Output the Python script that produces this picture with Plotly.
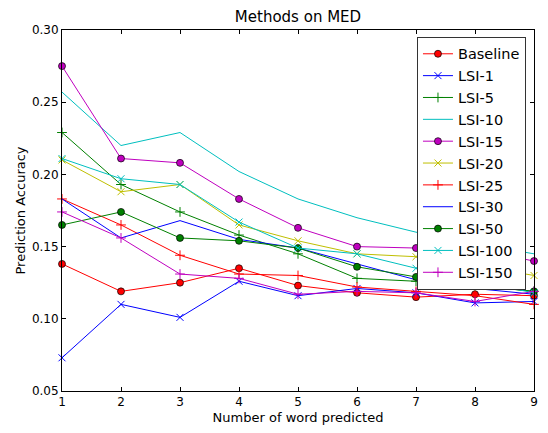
import plotly.graph_objects as go

# Number of words predicted
n_words = [1, 2, 3, 4, 5, 6, 7, 8, 9]

# Prediction accuracy for each method
baseline = [0.138, 0.119, 0.125, 0.135, 0.123, 0.118, 0.115, 0.117, 0.116]
lsi_1 = [0.073, 0.110, 0.101, 0.126, 0.116, 0.121, 0.118, 0.111, 0.112]
lsi_5 = [0.229, 0.193, 0.174, 0.158, 0.145, 0.128, 0.126, 0.123, 0.119]
lsi_10 = [0.257, 0.220, 0.229, 0.202, 0.183, 0.170, 0.160, 0.152, 0.145]
lsi_15 = [0.275, 0.211, 0.208, 0.183, 0.163, 0.150, 0.149, 0.148, 0.140]
lsi_20 = [0.210, 0.188, 0.193, 0.165, 0.154, 0.145, 0.143, 0.137, 0.130]
lsi_25 = [0.183, 0.165, 0.144, 0.131, 0.130, 0.122, 0.119, 0.116, 0.110]
lsi_30 = [0.183, 0.156, 0.168, 0.155, 0.149, 0.138, 0.127, 0.121, 0.117]
lsi_50 = [0.165, 0.174, 0.156, 0.154, 0.149, 0.136, 0.129, 0.123, 0.119]
lsi_100 = [0.211, 0.197, 0.193, 0.167, 0.149, 0.145, 0.135, 0.126, 0.118]
lsi_150 = [0.174, 0.156, 0.131, 0.128, 0.117, 0.119, 0.118, 0.112, 0.119]

y_ticks = [0.05, 0.10, 0.15, 0.20, 0.25, 0.30]

BLUE, GREEN, RED = "#0000ff", "#008000", "#ff0000"
CYAN, MAGENTA, YELLOW = "#00bfbf", "#bf00bf", "#bfbf00"

# (name, values, color, marker symbol or None)
series = [
    ("Baseline", baseline, RED, "circle"),
    ("LSI-1", lsi_1, BLUE, "x-thin"),
    ("LSI-5", lsi_5, GREEN, "cross-thin"),
    ("LSI-10", lsi_10, CYAN, None),
    ("LSI-15", lsi_15, MAGENTA, "circle"),
    ("LSI-20", lsi_20, YELLOW, "x-thin"),
    ("LSI-25", lsi_25, RED, "cross-thin"),
    ("LSI-30", lsi_30, BLUE, None),
    ("LSI-50", lsi_50, GREEN, "circle"),
    ("LSI-100", lsi_100, CYAN, "x-thin"),
    ("LSI-150", lsi_150, MAGENTA, "cross-thin"),
]

fig = go.Figure()
for i, (name, vals, color, sym) in enumerate(series):
    if sym is None:
        mode = "lines"
        marker = None
    elif sym == "circle":
        mode = "lines+markers"
        marker = dict(symbol="circle", size=7, color=color,
                      line=dict(color="black", width=0.7))
    else:
        mode = "lines+markers"
        marker = dict(symbol=sym, size=7, color=color,
                      line=dict(color=color, width=1))
    fig.add_trace(go.Scatter(
        x=n_words, y=vals, name=name, mode=mode,
        line=dict(color=color, width=1),
        marker=marker,
        cliponaxis=False,
        legendgroup=f"g{i}",
    ))

axis_common = dict(
    showline=True, linecolor="black", linewidth=1, mirror="allticks",
    ticks="inside", ticklen=4, tickcolor="black", tickwidth=1,
    showgrid=False, zeroline=False,
    tickfont=dict(family="DejaVu Sans", size=12, color="black"),
)

fig.update_layout(
    width=548, height=433,
    margin=dict(l=62, r=10, t=30, b=34),
    paper_bgcolor="white", plot_bgcolor="white",
    font=dict(family="DejaVu Sans", size=12, color="black"),
    title=dict(text="Methods on MED", x=0.5, xref="paper", xanchor="center",
               y=1, yref="container", yanchor="top", pad=dict(t=11),
               font=dict(size=15, color="black")),
    xaxis=dict(range=[1, 9], tickvals=n_words,
               title=dict(text="Number of word predicted", standoff=4,
                          font=dict(size=13)),
               **axis_common),
    yaxis=dict(range=[0.05, 0.30], tickvals=y_ticks, tickformat=".2f",
               title=dict(text="Prediction Accuracy", standoff=3,
                          font=dict(size=13)),
               **axis_common),
    legend=dict(x=0.983, y=0.981, xanchor="right", yanchor="top",
                bgcolor="white", bordercolor="#333333", borderwidth=1,
                font=dict(size=14.5, color="black"),
                traceorder="grouped", tracegroupgap=0,
                itemwidth=30),
    showlegend=True,
)

fig.write_html("out.html")
